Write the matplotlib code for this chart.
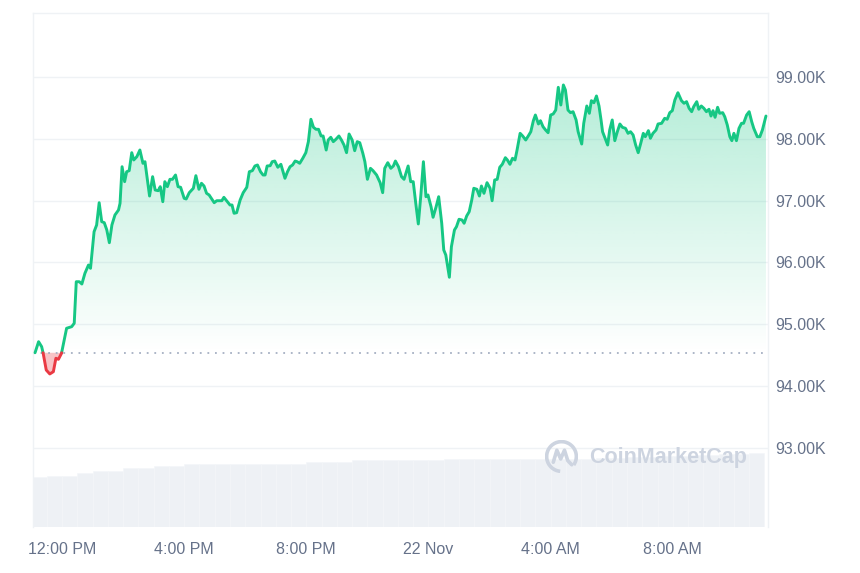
import numpy as np
import matplotlib
matplotlib.use("Agg")
import matplotlib.pyplot as plt
from matplotlib.patches import Arc
from matplotlib.path import Path

# ---------------- data ----------------
# minutes after 21 Nov 12:00 PM
t_min = [
    -53, -46, -40, -37, -31, -24, -17, -12, -7, -1,
    9, 19, 24, 28, 34, 39, 45, 52, 56, 63,
    68, 73, 78, 83, 88, 93, 98, 104, 111, 114,
    118, 123, 127, 132, 137, 141, 147, 153, 159, 163,
    172, 178, 183, 189, 193, 198, 202, 207, 212, 217,
    223, 228, 233, 240, 244, 250, 258, 263, 269, 274,
    279, 284, 289, 299, 304, 309, 314, 318, 325, 330,
    334, 338, 343, 350, 356, 363, 368, 374, 379, 384,
    390, 395, 399, 403, 409, 413, 418, 424, 430, 438,
    443, 448, 453, 458, 462, 467, 473, 479, 484, 489,
    494, 499, 504, 509, 513, 519, 523, 528, 533, 538,
    544, 549, 554, 559, 564, 570, 575, 580, 585, 591,
    595, 600, 606, 611, 618, 625, 630, 634, 640, 646,
    651, 655, 661, 667, 672, 680, 685, 690, 695, 700,
    705, 710, 715, 719, 725, 729, 735, 740, 746, 750,
    754, 761, 765, 771, 775, 780, 786, 790, 795, 800,
    805, 809, 815, 820, 824, 829, 835, 841, 845, 850,
    855, 860, 865, 871, 875, 880, 885, 890, 894, 900,
    905, 911, 916, 921, 926, 930, 936, 940, 945, 950,
    955, 960, 965, 970, 975, 980, 985, 989, 994, 999,
    1004, 1010, 1014, 1021, 1025, 1031, 1036, 1040, 1045, 1050,
    1055, 1059, 1062, 1067, 1072, 1076, 1081, 1086, 1091, 1096,
    1101, 1107, 1112, 1117, 1122, 1127, 1132, 1137, 1142, 1146,
    1152, 1156, 1161, 1167, 1171, 1178, 1184, 1189, 1194, 1199,
    1204, 1210, 1217, 1222, 1227, 1232, 1237, 1241, 1247, 1251,
    1256, 1261, 1266, 1271, 1275, 1279, 1283, 1288, 1292, 1298,
    1302, 1307, 1312, 1316, 1320, 1325, 1330, 1335, 1339, 1345,
    1350, 1355, 1359, 1366, 1371, 1376, 1383,
]

price = [
    94540, 94719, 94638, 94531, 94261, 94197, 94234, 94451, 94434, 94531,
    94936, 94962, 95017, 95689, 95689, 95652, 95825, 95959, 95906, 96498,
    96606, 96967, 96660, 96644, 96526, 96320, 96606, 96768, 96849, 96957,
    97549, 97307, 97468, 97485, 97776, 97658, 97711, 97819, 97604, 97630,
    97075, 97388, 97172, 97161, 97226, 96983, 97307, 97226, 97345, 97345,
    97415, 97226, 97216, 97038, 97027, 97129, 97200, 97404, 97184, 97281,
    97237, 97119, 97092, 96967, 96999, 96999, 96999, 97054, 96983, 96930,
    96930, 96796, 96805, 97011, 97129, 97216, 97468, 97485, 97561, 97577,
    97468, 97415, 97415, 97561, 97565, 97630, 97641, 97540, 97588, 97362,
    97468, 97549, 97577, 97641, 97630, 97604, 97685, 97776, 97954, 98316,
    98186, 98154, 98154, 98046, 98046, 97819, 97981, 98025, 97954, 97992,
    98046, 97981, 97900, 97776, 98078, 97981, 97808, 97954, 97937, 97766,
    97630, 97345, 97523, 97485, 97415, 97291, 97129, 97523, 97614, 97523,
    97561, 97641, 97549, 97388, 97345, 97561, 97307, 97307, 96957, 96623,
    97092, 97630, 97064, 97092, 96902, 96731, 96902, 97064, 96634, 96202,
    96121, 95761, 96255, 96526, 96579, 96699, 96687, 96634, 96752, 96822,
    97011, 97200, 97184, 97075, 97237, 97119, 97291, 97200, 96999, 97334,
    97345, 97540, 97588, 97695, 97658, 97588, 97685, 97658, 97819, 98089,
    98046, 97981, 98046, 98115, 98293, 98385, 98240, 98293, 98196, 98143,
    98099, 98385, 98402, 98466, 98833, 98547, 98871, 98790, 98466, 98423,
    98439, 98305, 98115, 97916, 98251, 98531, 98413, 98617, 98584, 98693,
    98531, 98305, 98115, 98009, 97900, 98143, 98305, 97970, 98115, 98240,
    98186, 98170, 98089, 98115, 98062, 97900, 97776, 97928, 98089, 98034,
    98132, 98009, 98089, 98143, 98240, 98251, 98332, 98316, 98423, 98455,
    98628, 98746, 98617, 98575, 98601, 98494, 98439, 98520, 98601, 98478,
    98531, 98494, 98439, 98478, 98369, 98455, 98348, 98510, 98413, 98423,
    98358, 98224, 98034, 97970, 98089, 97970, 98170, 98251, 98251, 98385,
    98439, 98277, 98170, 98034, 98034, 98143, 98369,
]

open_price = 94540

# volume bars (30-minute buckets, arbitrary units)
vol_t = [-45, -15, 15, 45, 75, 105, 135, 165, 195, 225,
         255, 285, 315, 345, 375, 405, 435, 465, 495, 525,
         555, 585, 615, 645, 675, 705, 735, 765, 795, 825,
         855, 885, 915, 945, 975, 1005, 1035, 1065, 1095, 1125,
         1155, 1185, 1215, 1245, 1275, 1305, 1335, 1365]
volume = [49.7, 51.0, 51.0, 53.7, 56.0, 56.0, 58.7, 58.7, 61.0, 61.0,
          63.0, 63.0, 63.0, 63.0, 63.0, 63.0, 63.0, 63.0, 65.0, 65.0,
          65.0, 67.0, 67.0, 67.0, 67.0, 67.0, 67.0, 68.3, 68.3, 68.3,
          68.3, 68.3, 68.3, 68.3, 68.3, 68.3, 68.3, 69.0, 69.5, 70.0,
          70.5, 71.0, 71.5, 72.0, 72.5, 73.0, 73.3, 73.7]

xtick_min = [0, 240, 480, 720, 960, 1200]
xtick_labels = ["12:00 PM", "4:00 PM", "8:00 PM", "22 Nov", "4:00 AM", "8:00 AM"]
ytick_vals = [93000, 94000, 95000, 96000, 97000, 98000, 99000]
ytick_labels = ["93.00K", "94.00K", "95.00K", "96.00K", "97.00K", "98.00K", "99.00K"]

# ---------------- style ----------------
GREEN = "#16c784"
RED = "#ea3943"
GRID = "#eff2f5"
TXT = "#66728a"
plt.rcParams["font.family"] = ["Liberation Sans", "DejaVu Sans"]

W, H = 860, 573
fig = plt.figure(figsize=(W / 100, H / 100), dpi=100)
fig.patch.set_facecolor("white")
L, R, T, B = 33, 768, 13, 527
rect = [L / W, 1 - B / H, (R - L) / W, (B - T) / H]

XLIM = (-57, 1387)
YLIM = (91722, 100035)

# volume axis (behind)
axv = fig.add_axes(rect)
axv.bar(vol_t, volume, width=30, color="#eef1f5", edgecolor="#f4f6f9", linewidth=0.4)
axv.set_xlim(*XLIM)
axv.set_ylim(0, 514)
axv.axis("off")

# price axis (front)
ax = fig.add_axes(rect, label="price")
ax.patch.set_visible(False)
ax.set_xlim(*XLIM)
ax.set_ylim(*YLIM)

t = np.array(t_min, float)
p = np.array(price, float)
tt, pp = [t[0]], [p[0]]
for i in range(len(t) - 1):
    a, b = p[i] - open_price, p[i + 1] - open_price
    if a * b < 0:
        tt.append(t[i] + (t[i + 1] - t[i]) * a / (a - b))
        pp.append(open_price)
    tt.append(t[i + 1])
    pp.append(p[i + 1])
tt = np.array(tt)
pp = np.array(pp)
up = np.where(pp >= open_price, pp, np.nan)
dn = np.where(pp <= open_price, pp, np.nan)

# gradient fill above open
poly = ax.fill_between(tt, open_price, pp, where=pp >= open_price, interpolate=True,
                       facecolor="none", edgecolor="none")
grad_top = 98900
n = 256
alpha = np.linspace(0.0, 0.32, n)
img = np.zeros((n, 1, 4))
img[:, 0, 0] = 22 / 255
img[:, 0, 1] = 199 / 255
img[:, 0, 2] = 132 / 255
img[:, 0, 3] = alpha
im = ax.imshow(img, origin="lower", aspect="auto",
               extent=(XLIM[0], XLIM[1], open_price, grad_top), zorder=1, interpolation="bilinear")
clip = Path.make_compound_path(*poly.get_paths())
im.set_clip_path(clip, transform=ax.transData)
ax.set_xlim(*XLIM)
ax.set_ylim(*YLIM)

# red fill below open
ax.fill_between(tt, open_price, pp, where=pp <= open_price, interpolate=True,
                facecolor=RED, alpha=0.3, edgecolor="none", zorder=1)

ax.axhline(open_price, color="#a6b0c3", lw=1.3, linestyle=(0, (1, 3.2)), zorder=2)
ax.plot(tt, up, color=GREEN, lw=2.1, solid_joinstyle="round", solid_capstyle="round", zorder=3)
ax.plot(tt, dn, color=RED, lw=2.1, solid_joinstyle="round", solid_capstyle="round", zorder=3)

# axes styling
ax.set_yticks(ytick_vals)
ax.set_yticklabels(ytick_labels)
ax.yaxis.tick_right()
ax.set_xticks(xtick_min)
ax.set_xticklabels(xtick_labels)
ax.tick_params(axis="y", length=0, pad=5, labelsize=11.5, labelcolor=TXT)
ax.tick_params(axis="x", length=0, pad=11, labelsize=11.5, labelcolor=TXT)
ax.yaxis.grid(True, color=GRID, lw=1.0)
ax.xaxis.grid(False)
ax.set_axisbelow(True)
for s in ["left", "top", "right"]:
    ax.spines[s].set_color(GRID)
    ax.spines[s].set_linewidth(1.0)
ax.spines["bottom"].set_visible(False)

# watermark
wm = "#cdd4e0"
fig.text(589 / W, 1 - 457 / H, "CoinMarketCap", fontsize=15.5, fontweight="bold",
         color=wm, ha="left", va="center")
axl = fig.add_axes([545 / W, 1 - 473 / H, 33 / W, 33 / H])
axl.set_xlim(-1, 1)
axl.set_ylim(-1, 1)
axl.axis("off")
axl.add_patch(Arc((0, 0), 1.8, 1.8, theta1=-35, theta2=265, color=wm, lw=2.6))
axl.plot([-0.5, -0.28, -0.05, 0.18, 0.38, 0.62], [-0.35, 0.38, -0.15, 0.38, -0.25, -0.5],
         color=wm, lw=2.6, solid_joinstyle="round", solid_capstyle="round")

fig.savefig("out.png", dpi=100, facecolor="white")
